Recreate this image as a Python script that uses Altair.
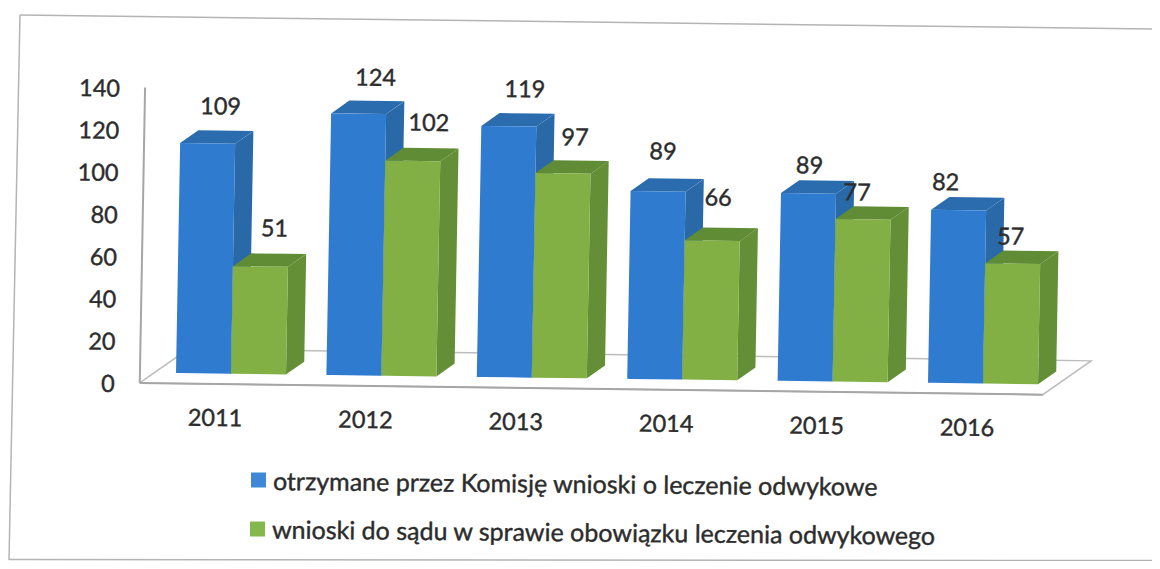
import altair as alt
import pandas as pd

YEARS = ["2011", "2012", "2013", "2014", "2015", "2016"]
RECEIVED = [109, 124, 119, 89, 89, 82]
COURT = [51, 102, 97, 66, 77, 57]
Y_TICKS = [0, 20, 40, 60, 80, 100, 120, 140]
LEGEND = ["otrzymane przez Komisję wnioski o leczenie odwykowe",
          "wnioski do sądu w sprawie obowiązku leczenia odwykowego"]

# Layout of the tilted pseudo-3D scene (px in the reference picture)
W, H = 1144, 553
SLOT, PV = 150.4, 2.11       # px per category, px per value
OX, OY = 176.0, 373.0        # picture position of slot 0, value 0
BAR = 55.0                   # bar width in px
DX, DY = 18.0, 13.0          # bar depth
TX, TY = 0.018, 0.013        # scan tilt
FONT = "Lato"
INK = "#2c2c2c"
BLUE = ("#2e7bcf", "#2a69a8", "#2a6cae")
GREEN = ("#82b044", "#648f36", "#5f8c35")

# data space: x in categories, y in values
XDOM = [(8 - OX) / SLOT, (8 + W - OX) / SLOT]
YDOM = [(OY - (8 + H)) / PV, (OY - 8) / PV]
x_enc = alt.Scale(domain=XDOM, nice=False, zero=False)
y_enc = alt.Scale(domain=YDOM, nice=False, zero=False)


def project(slot, value, depth=0.0):
    """Category slot / value / depth -> tilted data coordinates."""
    px = slot * SLOT + depth * DX + TX * (value * PV + depth * DY)
    up = value * PV + depth * DY - TY * px
    return px / SLOT, up / PV


def shift(pt, dx, dy):
    return pt[0] + dx / SLOT, pt[1] - dy / PV


def from_picture(px, py):
    return (px - OX) / SLOT, (OY - py) / PV


def hull_rows(poly, face, colour):
    rows = []
    n = len(poly)
    for x in sorted({p[0] for p in poly}):
        ys = []
        for i in range(n):
            (x0, y0), (x1, y1) = poly[i], poly[(i + 1) % n]
            if min(x0, x1) <= x <= max(x0, x1):
                if x0 == x1:
                    ys += [y0, y1]
                else:
                    ys.append(y0 + (y1 - y0) * (x - x0) / (x1 - x0))
        rows.append(dict(x=x, lo=min(ys), hi=max(ys), face=face, colour=colour))
    return rows


faces, face_id = [], 0
tops = []
for i, year in enumerate(YEARS):
    for k, (vals, pal) in enumerate(((RECEIVED, BLUE), (COURT, GREEN))):
        v = vals[i]
        s0 = i + k * BAR / SLOT
        s1 = i + (k + 1) * BAR / SLOT
        side = [project(s1, 0), project(s1, 0, 1), project(s1, v, 1), project(s1, v)]
        top = [project(s0, v), project(s1, v), project(s1, v, 1), project(s0, v, 1)]
        front = [project(s0, 0), project(s1, 0), project(s1, v), project(s0, v)]
        for poly, col in ((side, pal[1]), (top, pal[2]), (front, pal[0])):
            faces += hull_rows(poly, face_id, col)
            face_id += 1
        tops.append(project((s0 + s1) / 2, v))

LABEL_SHIFT = [(13, -36), (14, -37), (17, -35), (16, -37), (16, -36), (12, -35),
               (5, -39), (6, -42), (1, -27), (-6, -26), (-13, -27), (-2, -26)]
label_vals = [v for pair in zip(RECEIVED, COURT) for v in pair]
labels = []
for t, off, v in zip(tops, LABEL_SHIFT, label_vals):
    p = shift(t, *off)
    labels.append(dict(x=p[0], y=p[1], text=str(v)))

# floor and wall lines
FL, FR = -0.144, 5.86
D0, D1 = -0.8, 1.85
floor_pts = [project(FL, 0, D0), project(FR, 0, D0), project(FR, 0, D1), project(FL, 0, D1)]
floor_line = [dict(x=p[0], y=p[1], o=j, g="floor") for j, p in enumerate(floor_pts)]
floor_line.append(dict(x=floor_pts[0][0], y=floor_pts[0][1], o=9, g="floor"))
wall = [project(FL, 0, D0), project(FL, 140, D0)]
front_edge = [project(FL, 0, D0), project(FR, 0, D0)]
strong = [dict(x=p[0], y=p[1], o=j, g="wall") for j, p in enumerate(wall)]
strong += [dict(x=p[0], y=p[1], o=j, g="edge") for j, p in enumerate(front_edge)]

# sheet border of the scan
frame = []
for g, pts in (("top", [(20, 15), (1152, 29)]),
               ("left", [(20, 15), (9, 560)]),
               ("bottom", [(9, 559.5), (1152, 560.5)])):
    for j, p in enumerate(pts):
        q = from_picture(*p)
        frame.append(dict(x=q[0], y=q[1], o=j, g=g))

yticks = []
for t in Y_TICKS:
    p = shift(project(FL, t, D0), -25, 2)
    yticks.append(dict(x=p[0], y=p[1], text=str(t)))

xticks = []
for i, year in enumerate(YEARS):
    p = shift(project(i, 0), 39, 46)
    xticks.append(dict(x=p[0], y=p[1], text=year))

swatches = [dict(zip("xyc", (*from_picture(258.5, 480), "#3f88d8"))),
            dict(zip("xyc", (*from_picture(257.5, 529), "#84b84d")))]
leg_text = [dict(zip("xyt", (*from_picture(273, 482), LEGEND[0]))),
            dict(zip("xyt", (*from_picture(272, 530.5), LEGEND[1])))]

X = alt.X("x:Q", scale=x_enc, axis=None)
Y = alt.Y("y:Q", scale=y_enc, axis=None)


def lines(rows, colour, width):
    return alt.Chart(pd.DataFrame(rows)).mark_line(color=colour, strokeWidth=width).encode(
        x=X, y=Y, detail="g:N", order="o:Q")


def texts(rows, align, size, field="text", angle=0.75):
    return alt.Chart(pd.DataFrame(rows)).mark_text(
        align=align, baseline="middle", font=FONT, fontSize=size, color=INK, angle=angle,
        stroke=INK, strokeWidth=0.4
    ).encode(x=X, y=Y, text=f"{field}:N")


area = alt.Chart(pd.DataFrame(faces)).mark_area(opacity=1).encode(
    x=alt.X("x:Q", scale=x_enc, axis=None),
    y=alt.Y("lo:Q", scale=y_enc, axis=None),
    y2="hi:Q",
    detail="face:N",
    color=alt.Color("colour:N", scale=None),
)

swatch_layer = alt.Chart(pd.DataFrame(swatches)).mark_square(size=225, opacity=1).encode(
    x=X, y=Y, color=alt.Color("c:N", scale=None))

chart = alt.layer(
    lines(frame, "#b4b4b4", 1.5),
    lines(floor_line, "#bdbdbd", 1.5),
    lines(strong, "#a6a6a6", 2),
    area,
    texts(labels, "center", 23.5),
    texts(yticks, "right", 23.5),
    texts(xticks, "center", 23.5),
    swatch_layer,
    texts(leg_text, "left", 25, field="t", angle=0.55),
).properties(
    width=W, height=H, padding=0, background="white",
    autosize=alt.AutoSizeParams(type="none"),
).configure_view(stroke=None)

chart.save("out.html", embed_options={"renderer": "svg", "actions": False})
